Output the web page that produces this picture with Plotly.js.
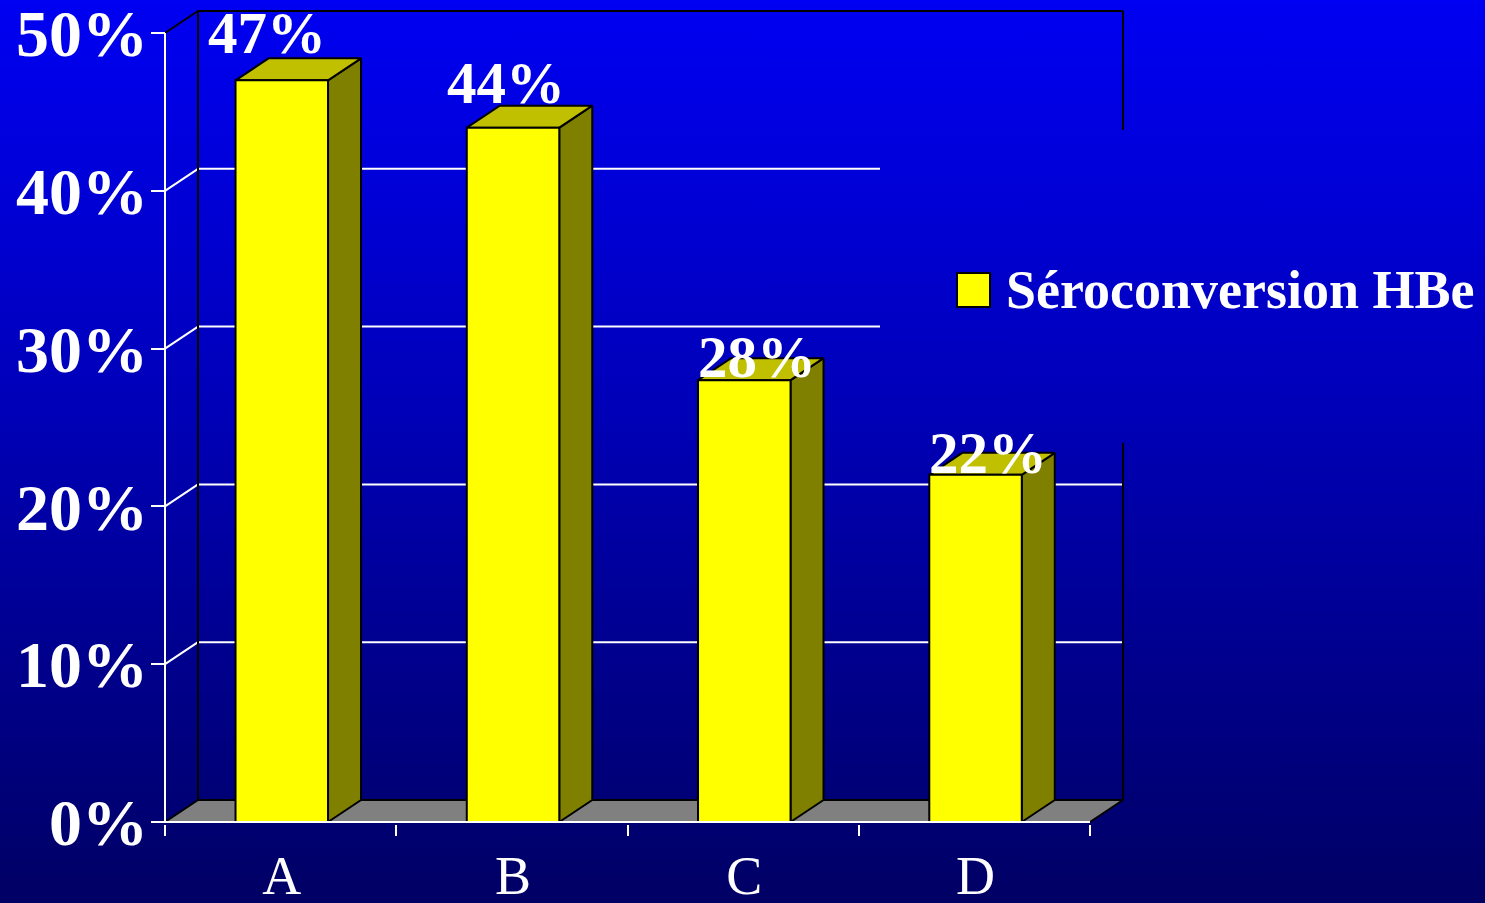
<!DOCTYPE html>
<html>
<head>
<meta charset="utf-8">
<script src="https://cdn.plot.ly/plotly-3.0.1.min.js"></script>
<style>
  html, body { margin:0; padding:0; width:1485px; height:903px; overflow:hidden;
    background: linear-gradient(to bottom, #0000F2 0%, #0000B8 45%, #000064 100%); }
  #chart { width:1485px; height:903px; }
</style>
</head>
<body>
<div id="chart"></div>
<script>
// ---------------- data ----------------
const categories = ['A', 'B', 'C', 'D'];
const seroconversion = [47, 44, 28, 22];
const seriesName = 'Séroconversion HBe';
const yTickValues = [0, 10, 20, 30, 40, 50];
const yTickLabels = ['0%', '10%', '20%', '30%', '40%', '50%'];
const valueLabels = seroconversion.map(v => v + '%');

// ---------------- layout / style constants ----------------
const W = 1485, H = 903;
const FONT = 'Liberation Serif, Times New Roman, serif';
const ORIGIN_X = 165, UNIT_X = 231.25;      // px of x=0, px per category
const ORIGIN_Y = 822, UNIT_Y = 15.78;       // px of 0%, px per percent
const PLOT = { left: 151, right: 1131, top: 8, bottom: 824 };
const DX = 33 / UNIT_X, DY = 22 / UNIT_Y;   // 3-D depth offset
const BAR_CENTER = 0.505, BAR_HALF = 0.2;
const N = categories.length;
const YMAX = 50;
// legend box hides parts of the wall (px)
const MASK = { left: 880, top: 130, bottom: 443 };
const maskX = (MASK.left - ORIGIN_X) / UNIT_X;
const maskYTop = (ORIGIN_Y - MASK.top) / UNIT_Y;
const maskYBot = (ORIGIN_Y - MASK.bottom) / UNIT_Y;
// data label nudges (px)
const labelXShift = [-31, -24, -4, -4];
const labelYShift = [25, 23, 1, 0];

const xRange = [(PLOT.left - ORIGIN_X) / UNIT_X, (PLOT.right - ORIGIN_X) / UNIT_X];
const yRange = [(ORIGIN_Y - PLOT.bottom) / UNIT_Y, (ORIGIN_Y - PLOT.top) / UNIT_Y];
const plotW = PLOT.right - PLOT.left, plotH = PLOT.bottom - PLOT.top;
const paperX = px => (px - PLOT.left) / plotW;
const paperY = py => (PLOT.bottom - py) / plotH;

function segs(list) {
  const x = [], y = [];
  list.forEach(s => { s.forEach(p => { x.push(p[0]); y.push(p[1]); }); x.push(null); y.push(null); });
  return { x, y };
}
function polys(list) {
  const x = [], y = [];
  list.forEach(poly => { poly.forEach(p => { x.push(p[0]); y.push(p[1]); }); x.push(poly[0][0]); y.push(poly[0][1]); x.push(null); y.push(null); });
  return { x, y };
}

const traces = [];
// floor
const floor = polys([[[0, 0], [N, 0], [N + DX, DY], [DX, DY]]]);
traces.push({ type: 'scatter', mode: 'lines', x: floor.x, y: floor.y, fill: 'toself',
  fillcolor: '#808080', line: { width: 0 }, hoverinfo: 'skip', showlegend: false });

// gridlines (white)
const gridSegs = [];
yTickValues.filter(v => v > 0 && v < YMAX).forEach(v => {
  const yb = v + DY;
  const xEnd = (yb > maskYBot && yb < maskYTop) ? maskX : N + DX;
  gridSegs.push([[0, v], [DX, yb]]);
  gridSegs.push([[DX, yb], [xEnd, yb]]);
});
const g = segs(gridSegs);
traces.push({ type: 'scatter', mode: 'lines', x: g.x, y: g.y, line: { color: 'white', width: 2 },
  hoverinfo: 'skip', showlegend: false });

// wall edges (black)
const edgeSegs = [
  [[0, YMAX], [DX, YMAX + DY]],
  [[DX, YMAX + DY], [N + DX, YMAX + DY]],
  [[DX, DY], [DX, YMAX + DY]],
  [[N + DX, YMAX + DY], [N + DX, maskYTop]],
  [[N + DX, maskYBot], [N + DX, DY]],
  [[DX, DY], [N + DX, DY]],
  [[0, 0], [DX, DY]],
  [[N, 0], [N + DX, DY]]
];
const e = segs(edgeSegs);
traces.push({ type: 'scatter', mode: 'lines', x: e.x, y: e.y, line: { color: 'black', width: 2 },
  hoverinfo: 'skip', showlegend: false });

// bars (3-D)
const sides = [], tops = [], fronts = [];
seroconversion.forEach((v, i) => {
  const l = i + BAR_CENTER - BAR_HALF, r = i + BAR_CENTER + BAR_HALF;
  sides.push([[r, 0], [r + DX, DY], [r + DX, v + DY], [r, v]]);
  tops.push([[l, v], [r, v], [r + DX, v + DY], [l + DX, v + DY]]);
  fronts.push([[l, 0], [r, 0], [r, v], [l, v]]);
});
[[sides, '#808000'], [tops, '#C0C000'], [fronts, '#FFFF00']].forEach(([list, col]) => {
  const p = polys(list);
  traces.push({ type: 'scatter', mode: 'lines', x: p.x, y: p.y, fill: 'toself', fillcolor: col,
    line: { color: 'black', width: 2 }, name: seriesName, hoverinfo: 'skip', showlegend: false });
});

// axis lines (white, front)
const a = segs([[[0, 0], [0, YMAX]], [[xRange[0], 0], [N, 0]]]);
traces.push({ type: 'scatter', mode: 'lines', x: a.x, y: a.y, line: { color: 'white', width: 2 },
  hoverinfo: 'skip', showlegend: false });

const annotations = seroconversion.map((v, i) => ({
  x: i + BAR_CENTER + DX / 2, y: v + DY, xref: 'x', yref: 'y',
  text: valueLabels[i], showarrow: false, xanchor: 'center', yanchor: 'middle',
  xshift: labelXShift[i], yshift: labelYShift[i],
  font: { family: FONT, size: 59, color: 'white', weight: 'bold' }
}));
annotations.push({
  xref: 'paper', yref: 'paper', x: paperX(1004), y: paperY(290), xanchor: 'left', yanchor: 'middle',
  text: seriesName, showarrow: false,
  font: { family: FONT, size: 54, color: 'white', weight: 'bold' }
});

const layout = {
  width: W, height: H,
  margin: { l: PLOT.left, r: W - PLOT.right, t: PLOT.top, b: H - PLOT.bottom, pad: 0 },
  paper_bgcolor: 'rgba(0,0,0,0)', plot_bgcolor: 'rgba(0,0,0,0)',
  showlegend: false,
  xaxis: {
    range: xRange, showgrid: false, zeroline: false, showline: false, automargin: false,
    tickmode: 'array', tickvals: categories.map((c, i) => i + BAR_CENTER), ticktext: categories,
    ticks: '', tickfont: { family: FONT, size: 54, color: 'white' }, ticklabelstandoff: 15,
    minor: { tickmode: 'array', tickvals: [0, 1, 2, 3, 4], ticks: 'outside', ticklen: 11,
      tickwidth: 2, tickcolor: 'white', showgrid: false },
    fixedrange: true
  },
  yaxis: {
    range: yRange, showgrid: false, zeroline: false, showline: false, automargin: false,
    tickmode: 'array', tickvals: yTickValues, ticktext: yTickLabels,
    ticks: 'inside', ticklen: 14, tickwidth: 2, tickcolor: 'white',
    tickfont: { family: FONT, size: 66, color: 'white', weight: 'bold' }, ticklabelstandoff: 2,
    ticklabeloverflow: 'allow',
    fixedrange: true
  },
  shapes: [{
    type: 'rect', xref: 'paper', yref: 'paper',
    x0: paperX(957), x1: paperX(990), y0: paperY(307), y1: paperY(273),
    fillcolor: '#FFFF00', line: { color: 'black', width: 2 }
  }],
  annotations: annotations
};

Plotly.newPlot('chart', traces, layout, { staticPlot: true, displayModeBar: false });
</script>
</body>
</html>
